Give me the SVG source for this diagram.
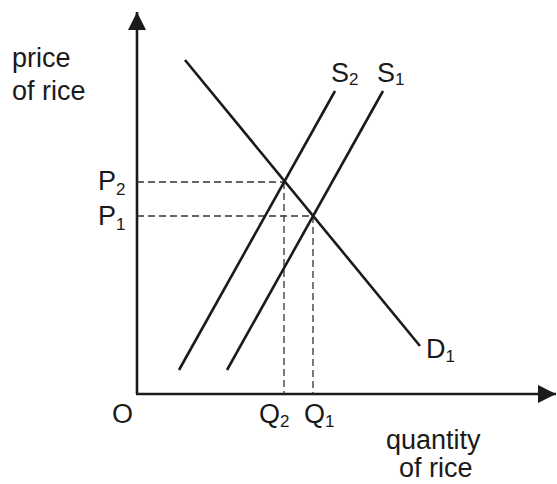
<svg xmlns="http://www.w3.org/2000/svg" width="557" height="484" viewBox="0 0 557 484">
<style>
.t{font-family:"Liberation Sans",Arial,sans-serif;font-size:27px;fill:#1a1a1a}
.s{font-size:17px}
.ax{stroke:#1a1a1a;stroke-width:2.6;fill:none}
.ln{stroke:#1a1a1a;stroke-width:2.6;fill:none}
.dash{stroke:#333;stroke-width:1.3;stroke-dasharray:7 4;fill:none}
</style>
<defs>
<marker id="ah" viewBox="0 0 10 10" refX="10" refY="5" markerWidth="7" markerHeight="7" markerUnits="strokeWidth" orient="auto">
<path d="M0,0 L10,5 L0,10 z" fill="#1a1a1a"/>
</marker>
</defs>
<rect width="557" height="484" fill="#fff"/>
<g id="connectors">
<line class="ax" x1="137" y1="394" x2="137" y2="12" marker-end="url(#ah)"/>
<line class="ax" x1="136" y1="394" x2="556" y2="394" marker-end="url(#ah)"/>
<line class="dash" x1="137" y1="182" x2="284" y2="182"/>
<line class="dash" x1="137" y1="216" x2="313" y2="216"/>
<line class="dash" x1="284" y1="182" x2="284" y2="394"/>
<line class="dash" x1="313" y1="216" x2="313" y2="394"/>
</g>
<g id="demand">
<line class="ln" x1="185" y1="60" x2="420" y2="346"/>
<text class="t" x="426" y="358">D<tspan class="s" dy="4">1</tspan></text>
</g>
<g id="supply2">
<line class="ln" x1="179" y1="370" x2="335" y2="91"/>
<text class="t" x="331" y="82">S<tspan class="s" dy="3">2</tspan></text>
</g>
<g id="supply1">
<line class="ln" x1="227" y1="370" x2="383" y2="91"/>
<text class="t" x="377" y="82">S<tspan class="s" dy="3">1</tspan></text>
</g>
<g id="y-label">
<text class="t" x="12" y="67">price</text>
<text class="t" x="12" y="100">of rice</text>
</g>
<g id="x-label">
<text class="t" x="386" y="449">quantity</text>
<text class="t" x="399" y="477">of rice</text>
</g>
<g id="prices">
<text class="t" x="98" y="190">P<tspan class="s" dy="5">2</tspan></text>
<text class="t" x="98" y="225">P<tspan class="s" dy="5">1</tspan></text>
</g>
<g id="quantities">
<text class="t" x="112" y="423">O</text>
<text class="t" x="259" y="423">Q<tspan class="s" dy="4">2</tspan></text>
<text class="t" x="304" y="423">Q<tspan class="s" dy="4">1</tspan></text>
</g>
</svg>
